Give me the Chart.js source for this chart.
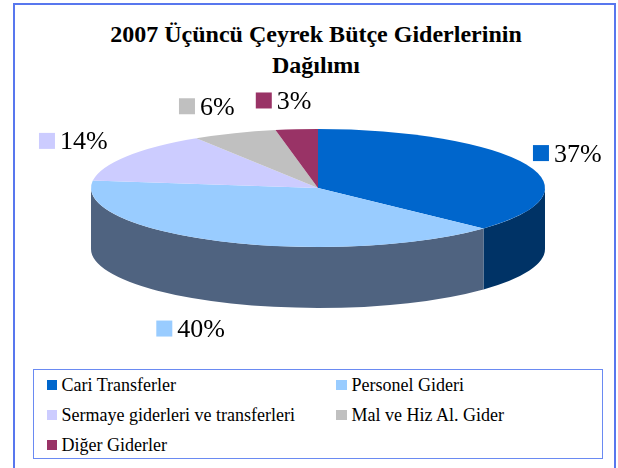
<!DOCTYPE html>
<html><head><meta charset="utf-8">
<script src="https://cdn.jsdelivr.net/npm/chart.js@4/dist/chart.umd.min.js"></script>
<style>
html,body{margin:0;padding:0;background:#fff;width:618px;height:468px;overflow:hidden;font-family:"Liberation Serif","Times New Roman","DejaVu Serif",serif;}
#frame{position:absolute;left:13px;top:3px;width:599px;height:480px;border:2px solid #5877EE;}
#title{position:absolute;left:14px;width:604px;top:19px;text-align:center;font-weight:bold;font-size:24px;line-height:31px;color:#000;}
#legend{position:absolute;left:33px;top:369px;width:568px;height:88px;border:1.5px solid #6A8AF2;}
.item{position:absolute;font-size:18px;line-height:20px;white-space:nowrap;color:#000;}
.sw{position:absolute;width:10px;height:10px;top:5px;}
canvas{position:absolute;left:0;top:0;}
</style></head>
<body>
<div id="frame"></div>
<div id="title"></div>
<div id="legend"></div>
<canvas id="c" width="618" height="468"></canvas>
<script>
const titleLines = ["2007 Üçüncü Çeyrek Bütçe Giderlerinin", "Dağılımı"];
const categories = ["Cari Transferler", "Personel Gideri", "Sermaye giderleri ve transferleri", "Mal ve Hiz Al. Gider", "Diğer Giderler"];
const shares = [37, 40, 14, 6, 3];
const colors = ["#0066CC", "#99CCFF", "#CCCCFF", "#C0C0C0", "#993366"];
const sideColors = ["#003366", "#4F6380", "#8A8AB0", "#808080", "#662244"];

// title
document.getElementById('title').innerHTML = titleLines.map(t => t.replace(/&/g,'&amp;')).join('<br>');

// legend (2 columns)
const legend = document.getElementById('legend');
categories.forEach((name, i) => {
  const row = Math.floor(i / 2), col = i % 2;
  const top = 4.5 + row * 30;
  const sw = document.createElement('div');
  sw.className = 'sw';
  sw.style.background = colors[i];
  sw.style.left = (col ? 301.5 : 12.5) + 'px';
  sw.style.top = (top + 5) + 'px';
  sw.style.width = (col ? 11 : 10) + 'px';
  legend.appendChild(sw);
  const it = document.createElement('div');
  it.className = 'item';
  it.textContent = name;
  it.style.left = (col ? 317.5 : 27.5) + 'px';
  it.style.top = top + 'px';
  legend.appendChild(it);
});

const pie3d = {
  id: 'pie3d',
  beforeDatasetsDraw(chart, args, opts) {
    const ctx = chart.ctx;
    const arcs = chart.getDatasetMeta(0).data;
    this._saved = false;
    if (!arcs.length) return;
    const a0 = arcs[0];
    const cx = a0.x, cy = a0.y, r = a0.outerRadius;
    const k = opts.tilt;
    ctx.save();
    this._saved = true;
    ctx.translate(cx, opts.centerY);
    ctx.scale(1, k);
    ctx.translate(-cx, -cy);
    const D = opts.depth / k;
    arcs.forEach((arc, i) => {
      [[0, Math.PI], [2 * Math.PI, 3 * Math.PI]].forEach(([lo, hi]) => {
        const s = Math.max(arc.startAngle, lo), e = Math.min(arc.endAngle, hi);
        if (e <= s) return;
        ctx.beginPath();
        ctx.arc(cx, cy, r, s, e);
        ctx.arc(cx, cy + D, r, e, s, true);
        ctx.closePath();
        ctx.fillStyle = opts.sideColors[i % opts.sideColors.length];
        ctx.fill();
      });
    });
  },
  afterDatasetsDraw(chart) {
    if (this._saved) { chart.ctx.restore(); this._saved = false; }
  },
  afterDraw(chart, args, opts) {
    const ctx = chart.ctx;
    const meta = chart.getDatasetMeta(0);
    const arcs = meta.data;
    if (!arcs.length) return;
    const cx = arcs[0].x, r = arcs[0].outerRadius, k = opts.tilt;
    const total = chart.data.datasets[0].data.reduce((a, b) => a + b, 0);
    ctx.save();
    ctx.font = opts.labelFont;
    ctx.textBaseline = 'alphabetic';
    ctx.textAlign = 'left';
    arcs.forEach((arc, i) => {
      const v = chart.data.datasets[0].data[i];
      const txt = Math.round(v / total * 100) + '%';
      const m = (arc.startAngle + arc.endAngle) / 2;
      const px = cx + opts.labelShift + r * opts.labelRx * Math.cos(m);
      const sn = Math.sin(m);
      const py = opts.centerY + r * k * opts.labelRy * sn + (sn > 0 ? opts.depth : 0);
      const box = opts.box, gap = opts.gap;
      const w = box + gap + ctx.measureText(txt).width;
      const x0 = px - w / 2;
      ctx.fillStyle = chart.data.datasets[0].backgroundColor[i];
      ctx.fillRect(x0, py - box / 2, box, box);
      ctx.fillStyle = '#000';
      ctx.fillText(txt, x0 + box + gap, py + box / 2 + 0.5);
    });
    ctx.restore();
  }
};

new Chart(document.getElementById('c'), {
  type: 'pie',
  data: {
    labels: categories,
    datasets: [{ data: shares, backgroundColor: colors, borderWidth: 0, hoverOffset: 0, hoverBorderWidth: 0 }]
  },
  options: {
    responsive: false,
    animation: false,
    events: [],
    layout: { padding: { left: 91, right: 73, top: 0, bottom: 14 } },
    plugins: {
      legend: { display: false },
      tooltip: { enabled: false },
      title: { display: false },
      pie3d: {
        tilt: 59 / 227, centerY: 188, depth: 61, sideColors: sideColors,
        labelRx: 1.235, labelRy: 1.49, labelShift: -8,
        labelFont: '26px "Liberation Serif", "Times New Roman", "DejaVu Serif", serif',
        box: 16, gap: 5
      }
    }
  },
  plugins: [pie3d]
});
</script>
</body></html>
